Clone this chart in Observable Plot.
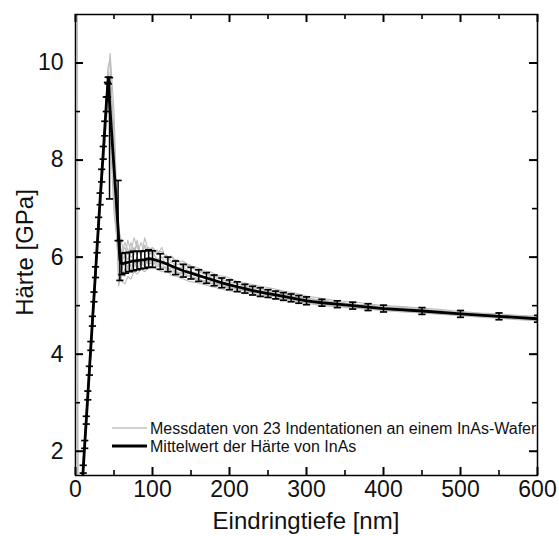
<!DOCTYPE html>
<html><head><meta charset="utf-8">
<script src="https://cdn.jsdelivr.net/npm/d3@7"></script>
<script src="https://cdn.jsdelivr.net/npm/@observablehq/plot@0.6"></script>
<style>body{margin:0;background:#fff;} #chart{width:559px;height:536px;}</style>
</head><body><div id="chart"></div>
<script>
const meanDepth = [8,10,12,14,16,18,20,22,24,26,28,30,32,34,36,38,40,41.5,42.5,44.2,55.3,57.6,
  60,65,70,75,80,85,90,95,100,
  110,120,130,140,150,160,170,180,190,200,210,220,230,240,250,260,270,280,290,300,
  320,340,360,380,400,450,500,550,600];
const meanHard = [1.12,1.63,2.14,2.64,3.15,3.66,4.17,4.68,5.18,5.69,6.2,6.7,7.2,7.68,8.15,8.65,9.15,9.45,9.67,9.2,6.6,5.95,
  5.86,5.88,5.9,5.92,5.93,5.94,5.95,5.97,5.96,
  5.91,5.85,5.78,5.72,5.67,5.62,5.57,5.52,5.47,5.43,5.39,5.35,5.31,5.28,5.25,5.22,5.19,5.16,5.13,5.1,
  5.06,5.03,5.0,4.97,4.94,4.89,4.83,4.78,4.73];
const hardLo = [1.04,1.55,2.06,2.56,3.06,3.57,4.08,4.58,5.08,5.58,6.09,6.58,7.08,7.55,8.02,8.5,9.0,9.3,9.57,7.2,6.34,5.52,
  5.64,5.67,5.7,5.72,5.74,5.76,5.77,5.79,5.79,
  5.75,5.7,5.64,5.59,5.55,5.5,5.46,5.41,5.37,5.33,5.29,5.26,5.22,5.19,5.17,5.14,5.11,5.08,5.05,5.02,
  4.99,4.96,4.93,4.9,4.87,4.82,4.76,4.71,4.66];
const hardHi = [1.2,1.71,2.22,2.72,3.24,3.75,4.26,4.78,5.28,5.8,6.31,6.82,7.32,7.81,8.28,8.8,9.3,9.6,9.71,9.7,7.58,6.34,
  6.08,6.09,6.1,6.12,6.12,6.12,6.13,6.15,6.13,
  6.07,6.0,5.92,5.85,5.79,5.74,5.68,5.63,5.57,5.53,5.49,5.44,5.4,5.37,5.33,5.3,5.27,5.24,5.21,5.18,
  5.13,5.1,5.07,5.04,5.01,4.96,4.9,4.85,4.8];
const grayDepth = [2,3,9,20,30,38,42,45,50,56,60,64,68,72,76,80,85,90,95,100,106,112,118,125,132,140,148,156,165,175,
  185,195,210,225,240,255,270,285,300,320,340,360,380,400,425,450,475,500,525,550,575,600];
const grayA = [20,0.8,1.5,4.3,6.8,8.7,9.9,10.1,7.9,5.5, 5.6,5.75,5.7,5.85,5.8,5.9,5.85,5.95,5.9,5.95, 5.85,5.8,5.78,5.7,5.68,5.6,5.62,5.55,5.5,5.47, 5.42,5.4,5.33,5.28,5.22,5.2,5.14,5.1,5.06,5.02, 5.0,4.96,4.94,4.9,4.89,4.86,4.83,4.8,4.78,4.75, 4.72,4.7];
const grayB = [18,1.0,1.3,4.0,6.5,8.4,9.4,9.6,8.3,6.4, 6.1,6.2,6.05,6.3,6.1,6.25,6.1,6.2,6.15,6.2, 6.1,6.12,6.0,6.02,5.9,5.92,5.82,5.8,5.72,5.7, 5.62,5.6,5.5,5.45,5.4,5.36,5.3,5.26,5.2,5.15, 5.1,5.08,5.04,5.0,4.98,4.95,4.92,4.88,4.85,4.83, 4.8,4.78];
const grayC = [null,null,1.6,4.2,6.6,8.5,9.6,10.2,9.0,6.0, 5.5,5.45,5.6,5.55,5.7,5.65,5.75,5.7,5.8,5.78, 5.75,5.7,5.72,5.62,5.6,5.55,5.5,5.48,5.44,5.4, 5.36,5.32,5.28,5.24,5.2,5.15,5.12,5.08,5.05,5.0, 4.98,4.95,4.92,4.9,4.87,4.85,4.82,4.8,4.76,4.74, 4.71,4.69];
const grayD = [null,null,1.4,4.1,6.7,8.6,9.8,9.3,7.2,5.8, 5.9,6.05,5.95,6.1,6.2,6.05,6.3,6.1,6.2,6.05, 6.15,5.98,6.05,5.9,5.95,5.8,5.85,5.72,5.7,5.6, 5.6,5.5,5.46,5.38,5.36,5.28,5.26,5.18,5.16,5.1, 5.08,5.03,5.02,4.97,4.96,4.92,4.9,4.86,4.84,4.8, 4.79,4.76];
const grayE = [22,1.1,1.5,4.2,6.6,8.4,9.3,9.0,7.6,6.6, 6.3,6.0,6.35,6.1,6.4,6.2,6.05,6.25,6.05,6.1, 5.95,6.0,5.85,5.9,5.78,5.8,5.7,5.68,5.6,5.58, 5.5,5.47,5.4,5.36,5.3,5.27,5.22,5.2,5.14,5.12, 5.06,5.04,4.99,4.98,4.94,4.92,4.88,4.86,4.82,4.8, 4.77,4.75];
const grayF = [null,null,1.3,4.0,6.5,8.3,9.2,9.8,8.6,5.4, 5.7,5.6,5.8,5.7,5.95,5.75,5.9,5.8,6.0,5.85, 5.9,5.78,5.8,5.72,5.7,5.66,5.6,5.58,5.52,5.5, 5.44,5.42,5.36,5.3,5.26,5.22,5.17,5.12,5.08,5.04, 5.01,4.98,4.95,4.92,4.9,4.88,4.85,4.82,4.79,4.77, 4.74,4.72];
const grayG = [null,null,1.5,4.3,6.7,8.6,9.5,8.5,6.9,6.1, 6.0,6.3,6.15,6.0,6.05,6.35,6.0,6.4,6.1,6.2, 6.05,6.2,5.95,6.0,5.85,5.88,5.78,5.75,5.66,5.64, 5.56,5.52,5.44,5.4,5.33,5.3,5.24,5.2,5.14,5.1, 5.05,5.02,5.0,4.96,4.93,4.9,4.88,4.84,4.81,4.79, 4.76,4.74];
const grayH = [null,null,1.4,4.1,6.6,8.5,9.7,9.5,8.0,5.7, 5.75,5.9,5.8,5.95,5.85,6.0,5.8,5.95,5.85,5.9, 5.8,5.86,5.74,5.78,5.66,5.68,5.6,5.55,5.52,5.46, 5.45,5.38,5.35,5.3,5.25,5.2,5.17,5.12,5.1,5.05, 5.02,4.99,4.96,4.94,4.9,4.88,4.85,4.83,4.8,4.77, 4.74,4.72];

const xMajor = [0,100,200,300,400,500,600];
const xMinor = [50,150,250,350,450,550];
const yMajor = [2,4,6,8,10];
const yMinor = [3,5,7,9];
const xTitle = "Eindringtiefe [nm]";
const yTitle = "Härte [GPa]";
const legendGray = "Messdaten von 23 Indentationen an einem InAs-Wafer";
const legendMean = "Mittelwert der Härte von InAs";

const grayCurves = [grayA,grayB,grayC,grayD,grayE,grayF,grayG,grayH];
const grayRows = grayCurves.flatMap((c, id) =>
  c.map((h, i) => ({id, depth: grayDepth[i], hard: h})).filter(d => d.hard != null));
const meanRows = meanDepth.map((d, i) => ({depth: d, hard: meanHard[i], lo: hardLo[i], hi: hardHi[i]}));

const capSymbol = {draw(ctx) { ctx.moveTo(-3.6, 0); ctx.lineTo(3.6, 0); }};
const W = 559, H = 536;
const mL = 75, mR = 22, mT = 14, mB = 61;
const fw = W - mL - mR, fh = H - mT - mB;

const plot = Plot.plot({
  width: W, height: H,
  marginLeft: mL, marginRight: mR, marginTop: mT, marginBottom: mB,
  style: {fontFamily: "'Liberation Sans', Arial, sans-serif", fontSize: "23px", color: "#111", background: "white"},
  x: {domain: [0, 600]},
  y: {domain: [1.5, 11]},
  marks: [
    Plot.line(grayRows, {x: "depth", y: "hard", z: "id", stroke: "#bdbdbd", strokeWidth: 1.1, clip: true}),
    Plot.line(meanRows, {x: "depth", y: "hard", stroke: "#000", strokeWidth: 2.8, clip: true}),
    Plot.ruleX(meanRows, {x: "depth", y1: "lo", y2: "hi", stroke: "#000", strokeWidth: 1.5, clip: true}),
    Plot.dot(meanRows, {x: "depth", y: "lo", symbol: capSymbol, r: 3, fill: "none", stroke: "#000", strokeWidth: 1.7, clip: true}),
    Plot.dot(meanRows, {x: "depth", y: "hi", symbol: capSymbol, r: 3, fill: "none", stroke: "#000", strokeWidth: 1.7, clip: true}),
    Plot.frame({stroke: "#000", strokeWidth: 1.5}),
    Plot.axisX(xMajor, {anchor: "bottom", tickSize: 0, tickPadding: 5, label: null, tickFormat: d => String(d), fontSize: 23}),
    Plot.axisY(yMajor, {anchor: "left", tickSize: 0, tickPadding: 12, label: null, tickFormat: d => String(d), fontSize: 23}),
    // inward ticks: short rules inset from the opposite side of the frame
    Plot.ruleX(xMajor, {x: d => d, insetTop: fh - 8, stroke: "#000", strokeWidth: 2}),
    Plot.ruleX(xMinor, {x: d => d, insetTop: fh - 5, stroke: "#000", strokeWidth: 1.6}),
    Plot.ruleX(xMajor, {x: d => d, insetBottom: fh - 8, stroke: "#000", strokeWidth: 2}),
    Plot.ruleX(xMinor, {x: d => d, insetBottom: fh - 5, stroke: "#000", strokeWidth: 1.6}),
    Plot.ruleY(yMajor, {y: d => d, insetRight: fw - 8, stroke: "#000", strokeWidth: 2}),
    Plot.ruleY(yMinor, {y: d => d, insetRight: fw - 5, stroke: "#000", strokeWidth: 1.6}),
    Plot.ruleY(yMajor, {y: d => d, insetLeft: fw - 8, stroke: "#000", strokeWidth: 2}),
    Plot.ruleY(yMinor, {y: d => d, insetLeft: fw - 5, stroke: "#000", strokeWidth: 1.6})
  ]
});
document.getElementById("chart").appendChild(plot);

const svg = d3.select(plot);
const font = "'Liberation Sans', Arial, sans-serif";
svg.append("text").attr("x", mL + fw / 2).attr("y", 529)
  .attr("text-anchor", "middle").attr("font-family", font).attr("font-size", 24).attr("fill", "#111").text(xTitle);
svg.append("text").attr("transform", `translate(33,${mT + fh / 2 + 8}) rotate(-90)`)
  .attr("text-anchor", "middle").attr("font-family", font).attr("font-size", 24).attr("fill", "#111").text(yTitle);
const lg = svg.append("g").attr("font-family", font).attr("font-size", 16).attr("fill", "#111").attr("text-anchor", "start");
lg.append("line").attr("x1", 112).attr("x2", 147).attr("y1", 428).attr("y2", 428).attr("stroke", "#c2c2c2").attr("stroke-width", 1.5);
lg.append("text").attr("x", 150).attr("y", 433.5).attr("text-anchor", "start").text(legendGray);
lg.append("line").attr("x1", 112).attr("x2", 147).attr("y1", 446).attr("y2", 446).attr("stroke", "#000").attr("stroke-width", 2.8);
lg.append("text").attr("x", 150).attr("y", 451.5).attr("text-anchor", "start").text(legendMean);
</script></body></html>
